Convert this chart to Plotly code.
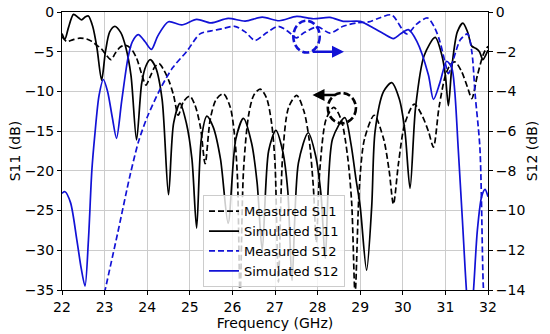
import plotly.graph_objects as go

# ---------------- data ----------------
sim_s11_freq = [22.0, 22.07, 22.15, 22.27, 22.38, 22.46, 22.55, 22.62, 22.72, 22.82, 22.93, 23.02, 23.12, 23.24,
                23.38, 23.5, 23.62, 23.75, 23.87, 23.97, 24.07, 24.2, 24.35, 24.5, 24.62, 24.77, 24.92, 25.05,
                25.16, 25.27, 25.4, 25.55, 25.72, 25.9, 26.08, 26.26, 26.45, 26.58, 26.7, 26.85, 27.02, 27.18,
                27.3, 27.4, 27.55, 27.78, 27.95, 28.08, 28.18, 28.35, 28.64, 28.78, 28.9, 29.0, 29.15, 29.27,
                29.35, 29.55, 29.74, 29.92, 30.05, 30.17, 30.3, 30.5, 30.76, 30.92, 31.0, 31.07, 31.15, 31.28,
                31.41, 31.52, 31.62, 31.72, 31.8, 31.88, 31.95, 32.0]
sim_s11_db = [-2.7, -3.4, -2.0, -0.3, -0.7, -1.0, -0.6, -0.5, -1.8, -4.5, -8.6, -5.0, -2.5, -1.8,
              -2.6, -4.5, -8.0, -16.1, -9.0, -6.8, -6.0, -7.0, -11.0, -23.0, -14.0, -11.5, -14.0, -18.5,
              -27.2, -16.0, -13.1, -14.5, -18.5, -26.6, -16.0, -13.4, -16.5, -21.5, -30.0, -17.5, -14.9, -17.5,
              -22.5, -33.8, -19.0, -15.2, -18.0, -23.0, -31.0, -16.0, -13.3, -16.5, -21.0, -24.5, -32.5, -24.5,
              -15.0, -10.0, -8.9, -11.0, -15.0, -22.2, -12.0, -5.5, -3.2, -5.5, -8.0, -11.8, -7.0, -2.5,
              -1.4, -2.5, -4.3, -4.6, -5.0, -6.0, -5.4, -4.8]

meas_s11_freq = [22.0, 22.11, 22.25, 22.42, 22.58, 22.7, 22.82, 22.92, 23.02, 23.15, 23.25, 23.37, 23.5, 23.62,
                 23.75, 23.87, 23.97, 24.08, 24.18, 24.28, 24.4, 24.52, 24.62, 24.73, 24.85, 25.0, 25.12, 25.25,
                 25.36, 25.48, 25.62, 25.79, 25.95, 26.05, 26.12, 26.18, 26.26, 26.38, 26.5, 26.65, 26.8, 26.92,
                 27.0, 27.08, 27.18, 27.32, 27.51, 27.68, 27.8, 27.9, 27.97, 28.05, 28.2, 28.38, 28.55, 28.7,
                 28.8, 28.88, 28.98, 29.1, 29.33, 29.55, 29.68, 29.78, 29.9, 30.05, 30.27, 30.45, 30.6, 30.72,
                 30.85, 31.0, 31.12, 31.23, 31.38, 31.52, 31.62, 31.75, 31.9, 32.0]
meas_s11_db = [-3.1, -3.7, -3.5, -3.3, -3.4, -3.7, -4.2, -4.6, -5.3, -6.0, -5.2, -4.4, -4.2, -4.6,
               -5.8, -7.8, -9.2, -8.0, -6.9, -6.5, -7.4, -8.8, -10.5, -13.0, -11.3, -10.6, -11.7, -14.5,
               -19.1, -13.5, -11.0, -10.3, -12.0, -15.5, -21.0, -36.0, -20.0, -13.0, -10.5, -9.7, -10.8, -14.0,
               -19.0, -34.0, -18.0, -12.0, -10.5, -12.5, -16.0, -22.0, -29.0, -20.0, -13.5, -12.0, -13.5, -18.0,
               -24.0, -35.5, -22.0, -16.0, -13.0, -16.0, -20.0, -24.2, -19.0, -14.0, -11.6, -13.0, -15.0, -17.0,
               -12.0, -8.0, -6.6, -6.3, -7.5, -9.5, -10.9, -8.0, -5.2, -4.3]

meas_s12_freq = [22.95, 23.3, 23.6, 23.8, 24.0, 24.3, 24.6, 24.93, 25.24, 25.5, 25.75, 26.05, 26.3, 26.53,
                 26.8, 27.08, 27.3, 27.5, 27.67, 28.0, 28.29, 28.6, 28.92, 29.2, 29.45, 29.74, 30.09, 30.33,
                 30.58, 30.75, 30.87, 31.0, 31.07, 31.2, 31.35, 31.52, 31.62, 31.7, 31.81, 31.89, 31.93]
meas_s12_db = [-14.6, -11.2, -8.2, -6.5, -5.3, -3.9, -2.8, -1.98, -1.1, -0.95, -0.85, -0.72, -1.0, -1.43,
               -1.05, -0.72, -0.97, -1.3, -1.06, -0.75, -1.06, -0.72, -0.55, -0.5, -0.3, -0.15, -1.1, -0.6,
               -0.3, -0.8, -1.48, -2.6, -3.1, -2.3, -1.4, -1.1, -2.0, -4.2, -6.85, -13.8, -15.0]

sim_s12_freq = [22.0, 22.07, 22.2, 22.35, 22.45, 22.54, 22.62, 22.7, 22.77, 22.87, 22.97, 23.07, 23.18, 23.28,
                23.4, 23.55, 23.65, 23.79, 23.95, 24.1, 24.25, 24.5, 24.81, 25.16, 25.5, 25.9, 26.3, 26.7,
                27.1, 27.51, 27.9, 28.29, 28.6, 29.0, 29.31, 29.55, 29.78, 29.95, 30.13, 30.33, 30.6, 30.72,
                30.87, 31.03, 31.15, 31.22, 31.3, 31.4, 31.5, 31.58, 31.66, 31.75, 31.85, 31.93, 32.0]
sim_s12_db = [-9.13, -9.05, -9.6, -11.5, -12.9, -13.8, -11.5, -8.0, -6.2, -4.2, -3.4, -4.0, -5.3, -6.36,
              -4.5, -2.3, -1.5, -1.14, -1.5, -1.88, -1.2, -0.49, -0.65, -0.37, -0.55, -0.32, -0.46, -0.26,
              -0.44, -0.22, -0.34, -0.27, -0.47, -0.47, -0.81, -1.1, -1.34, -1.1, -0.89, -1.48, -3.16, -4.4,
              -3.57, -2.48, -2.82, -4.0, -6.85, -10.5, -14.2, -16.0, -14.0, -11.0, -9.3, -8.93, -9.3]

freq_ticks = list(range(22, 33))
s11_ticks = [0, -5, -10, -15, -20, -25, -30, -35]
s12_ticks = [0, -2, -4, -6, -8, -10, -12, -14]

BLUE = "#1212d6"
FONT = "DejaVu Sans"

fig = go.Figure()
fig.add_trace(go.Scatter(x=meas_s11_freq, y=meas_s11_db, name="Measured S11", mode="lines",
                         line=dict(color="black", width=1.7, dash="6px,3px", shape="spline", smoothing=0.8)))
fig.add_trace(go.Scatter(x=sim_s11_freq, y=sim_s11_db, name="Simulated S11", mode="lines",
                         line=dict(color="black", width=1.7, shape="spline", smoothing=0.8)))
fig.add_trace(go.Scatter(x=meas_s12_freq, y=meas_s12_db, name="Measured S12", mode="lines", yaxis="y2",
                         line=dict(color=BLUE, width=1.7, dash="6px,3px", shape="spline", smoothing=0.8)))
fig.add_trace(go.Scatter(x=sim_s12_freq, y=sim_s12_db, name="Simulated S12", mode="lines", yaxis="y2",
                         line=dict(color=BLUE, width=1.7, shape="spline", smoothing=0.8)))

# annotation circles and arrows
fig.add_shape(type="circle", xref="x", yref="y", x0=27.43, x1=28.05, y0=-5.1, y1=-1.1,
              line=dict(color=BLUE, width=2.6, dash="7px,3px"))
fig.add_shape(type="circle", xref="x", yref="y", x0=28.24, x1=28.9, y0=-14.0, y1=-10.2,
              line=dict(color="black", width=2.6, dash="7px,3px"))
fig.add_annotation(x=28.62, y=-5.0, ax=27.85, ay=-5.0, xref="x", yref="y", axref="x", ayref="y",
                   showarrow=True, arrowhead=2, arrowsize=1, arrowwidth=2.4, arrowcolor=BLUE, text="")
fig.add_annotation(x=27.88, y=-10.45, ax=28.45, ay=-10.45, xref="x", yref="y", axref="x", ayref="y",
                   showarrow=True, arrowhead=2, arrowsize=1, arrowwidth=2.4, arrowcolor="black", text="")

axis_common = dict(showline=True, linecolor="black", linewidth=1, ticks="outside", ticklen=4,
                   tickcolor="black", tickfont=dict(family=FONT, size=14, color="black"), zeroline=False,
                   automargin=False)

fig.update_layout(
    width=550, height=334,
    margin=dict(l=62, r=62, t=12, b=44, autoexpand=False),
    paper_bgcolor="white", plot_bgcolor="white",
    font=dict(family=FONT, size=14, color="black"),
    xaxis=dict(range=[22, 32], tickvals=freq_ticks, mirror=True, showgrid=True, gridcolor="#cccccc",
               gridwidth=1, title=dict(text="Frequency (GHz)", font=dict(family=FONT, size=14), standoff=0),
               **axis_common),
    yaxis=dict(range=[-35, 0], tickvals=s11_ticks, showgrid=True, gridcolor="#cccccc", gridwidth=1,
               title=dict(text="S11 (dB)", font=dict(family=FONT, size=14), standoff=0), **axis_common),
    yaxis2=dict(range=[-14, 0], tickvals=s12_ticks, overlaying="y", side="right", showgrid=False,
                title=dict(text="S12 (dB)", font=dict(family=FONT, size=14), standoff=2), **axis_common),
    legend=dict(x=0.331, y=0.01, xanchor="left", yanchor="bottom", bgcolor="rgba(255,255,255,0.8)",
                bordercolor="#cccccc", borderwidth=1, font=dict(family=FONT, size=13), tracegroupgap=0,
                itemwidth=30),
    showlegend=True,
)

fig.write_html("out.html", config={"displayModeBar": False},
               post_script="document.body.style.margin='0px';document.body.style.padding='0px';")
